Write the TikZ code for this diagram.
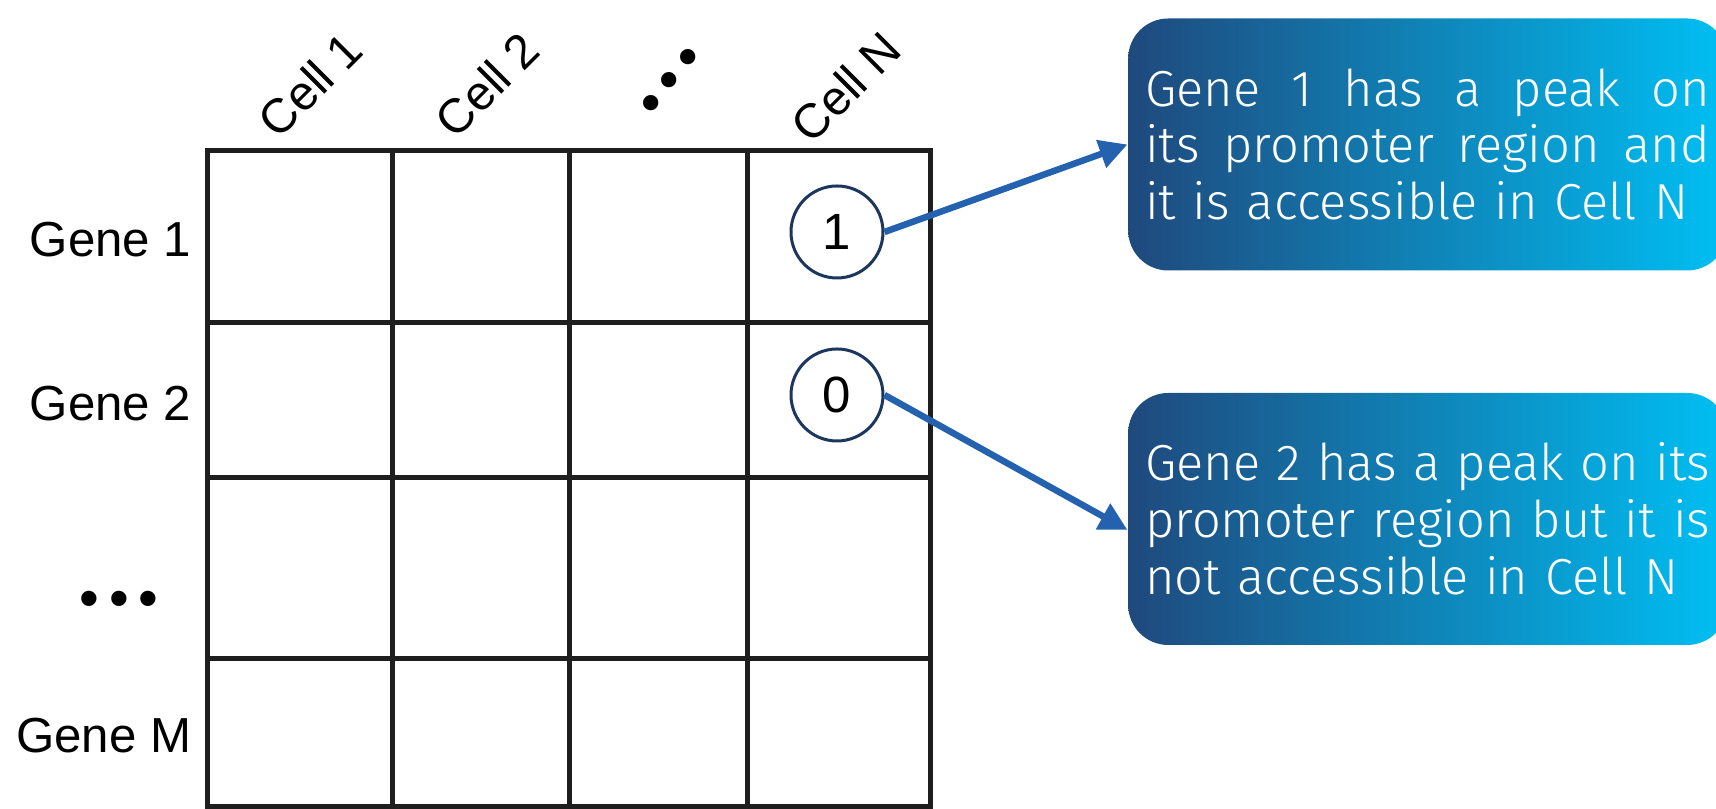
\documentclass[tikz,border=0pt]{standalone}
\usepackage{fontspec}
\usepackage{xcolor}
\usepackage{tikz}
\usetikzlibrary{shapes.geometric, arrows, arrows.meta, positioning, calc}
\setmainfont{Liberation Sans}
\newfontfamily\notefont{Fira Sans Light}
\definecolor{gridgray}{RGB}{30, 30, 30}
\definecolor{circlenavy}{RGB}{28, 54, 94}
\definecolor{arrowblue}{RGB}{36, 98, 176}
\definecolor{notedark}{RGB}{31, 73, 125}
\definecolor{notelight}{RGB}{0, 191, 243}
\newcommand{\noteline}[1]{\leavevmode\hbox to 5.65cm{\spaceskip=.25em plus 1fil minus .1em\relax #1}}
\newcommand{\threedots}{•\hspace{0.10cm}•\hspace{0.10cm}•}
\tikzset{
    gridline/.style={draw=gridgray, line width=0.05cm},
    genelabel/.style={anchor=east, inner sep=0pt, font=\fontsize{14}{16}\selectfont},
    celllabel/.style={anchor=base west, rotate=45, inner sep=0pt, font=\fontsize{13.7}{16}\selectfont},
    dotlabel/.style={inner sep=0pt, font=\fontsize{16}{16}\selectfont},
    cellvalue/.style={circle, draw=circlenavy, line width=0.03cm, minimum size=0.92cm, inner sep=0pt, font=\fontsize{14.5}{16}\selectfont},
    notebox/.style={left color=notedark, right color=notelight, rounded corners=0.4cm, text=white,
          text width=5.65cm, inner xsep=0.17cm, minimum height=2.52cm, anchor=west, align=left,
          font=\notefont\fontsize{14.4}{16.2}\selectfont},
    pointer/.style={draw=arrowblue, line width=0.065cm, -{Triangle[length=0.28cm, width=0.28cm]}}
}

\begin{document}
\begin{tikzpicture}
    \useasboundingbox (0,0) rectangle (17.16,8.09);
    \clip (0,0) rectangle (17.16,8.09);

    \draw[gridline] (2.07,0.02) rectangle (9.30,6.58);
    \foreach \x in {3.92,5.69,7.47}
        \draw[gridline] (\x,0.02) -- (\x,6.58);
    \foreach \y in {1.50,3.31,4.86}
        \draw[gridline] (2.07,\y) -- (9.30,\y);

    \node[genelabel] (gene1) at (1.92,5.69) {Gene 1};
    \node[genelabel] (gene2) at (1.92,4.055) {Gene 2};
    \node[dotlabel] (genedots) at (1.19,2.05) {\threedots};
    \node[genelabel] (genem) at (1.92,0.73) {Gene M};

    \node[celllabel] (cell1) at (2.78,6.68) {Cell 1};
    \node[celllabel] (cell2) at (4.55,6.68) {Cell 2};
    \node[dotlabel, rotate=51] (celldots) at (6.74,7.25) {\threedots};
    \node[celllabel] (celln) at (8.11,6.63) {Cell N};

    \node[cellvalue] (one) at (8.37,5.77) {1};
    \node[cellvalue] (zero) at (8.37,4.14) {0};

    \node[notebox] (note1) at (11.275,6.645) {\noteline{Gene 1 has a peak on}\\
        \noteline{its promoter region and}\\
        it is accessible in Cell N};
    \node[notebox] (note2) at (11.275,2.90) {\noteline{Gene 2 has a peak on its}\\
        \noteline{promoter region but it is}\\
        not accessible in Cell N};

    \draw[pointer] (one.east) -- (note1.west);
    \draw[pointer] (zero.east) -- ($(note2.west)+(0,-0.11)$);
\end{tikzpicture}
\end{document}
